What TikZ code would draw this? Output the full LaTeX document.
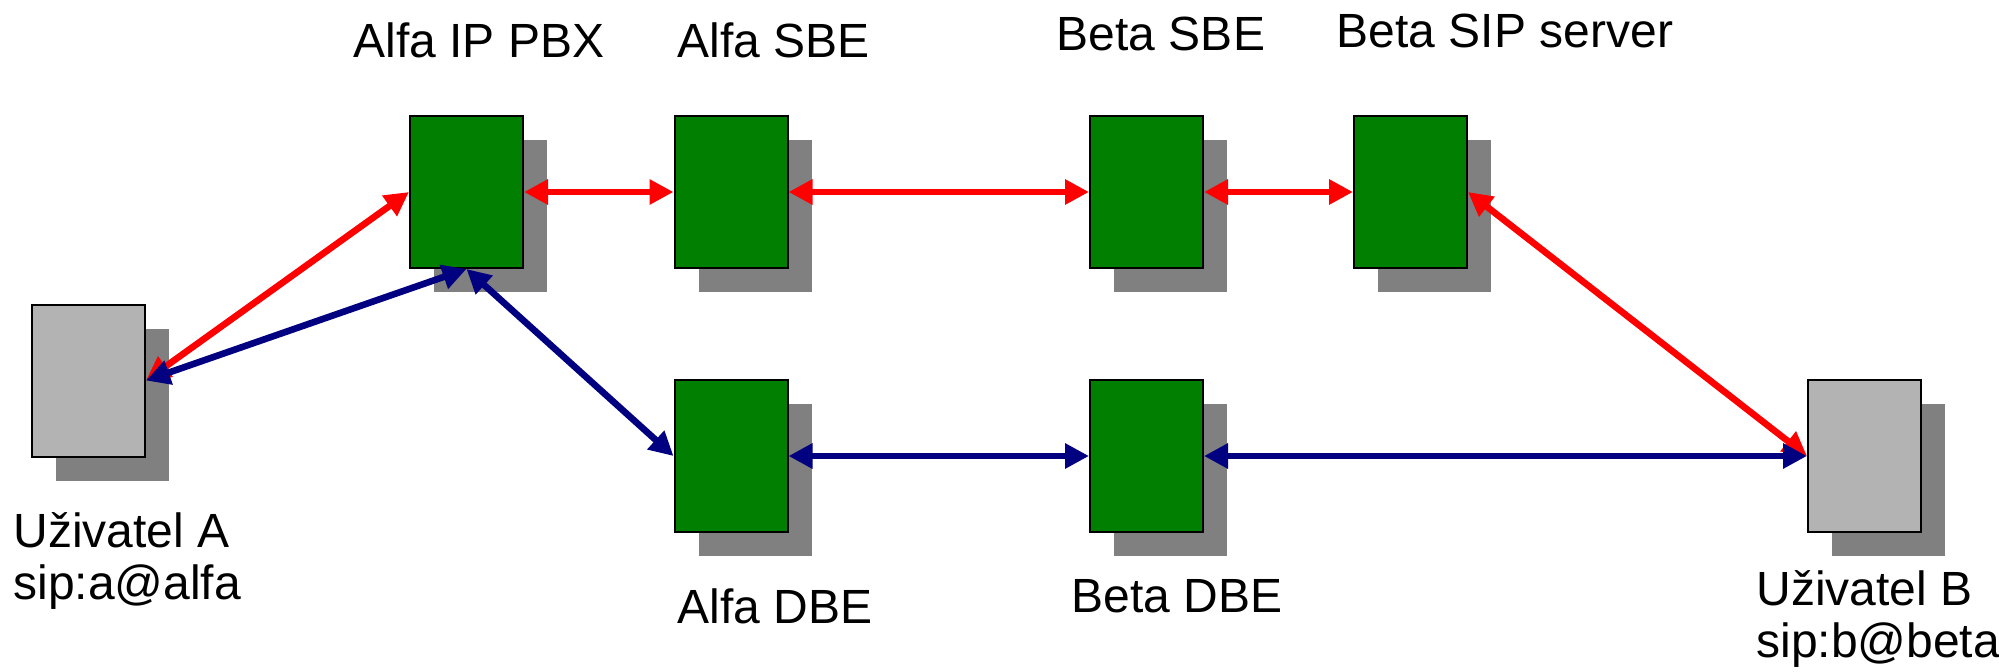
\documentclass[tikz,border=0pt]{standalone}
\usepackage{fontspec}
\setmainfont{Liberation Sans}
\usetikzlibrary{arrows.meta,shadows}
\definecolor{verde}{HTML}{007F00}
\definecolor{gris}{HTML}{B3B3B3}
\definecolor{sombra}{HTML}{808080}
\definecolor{azul}{HTML}{000080}
\begin{document}
\begin{tikzpicture}[x=0.5pt,y=-0.5pt,
  caja/.style={rectangle,draw=black,line width=1pt,inner sep=0pt,
    minimum width=56.5pt,minimum height=76pt,
    general shadow={fill=sombra,shadow xshift=12pt,shadow yshift=-12pt}},
  servidor/.style={caja,fill=verde},
  usuario/.style={caja,fill=gris},
  punta/.style={{Triangle[length=12pt,width=12pt]}-{Triangle[length=12pt,width=12pt]}},
  senal/.style={punta,color=red,line width=3.3pt},
  medio/.style={punta,color=azul,line width=3.3pt},
  etiqueta/.style={inner sep=0pt,font=\fontsize{24}{26}\selectfont}]
  \useasboundingbox (0,0) rectangle (1999,671);

  % Usuarios
  \node[usuario] (ua) at (88.5,380.5) {};
  \node[usuario] (ub) at (1864.5,456) {};

  % Servidores de arriba
  \node[servidor] (pbx) at (466.5,192) {};
  \node[servidor] (asbe) at (731,192) {};
  \node[servidor] (bsbe) at (1146.5,192) {};
  \node[servidor] (bsip) at (1410.5,192) {};

  % Servidores de abajo
  \node[servidor] (adbe) at (731,456) {};
  \node[servidor] (bdbe) at (1146.5,456) {};

  % Flechas rojas
  \foreach \from/\to in {pbx.west/ua.east, pbx.east/asbe.west, asbe.east/bsbe.west,
                         bsbe.east/bsip.west, bsip.east/ub.west}
    \draw[senal] (\from) -- (\to);

  % Flechas azules
  \foreach \from/\to in {pbx.south/ua.east, pbx.south/adbe.west, adbe.east/bdbe.west,
                         bdbe.east/ub.west}
    \draw[medio] (\from) -- (\to);

  % Textos
  \node[etiqueta,anchor=base] (lpbx) at (479,57) {Alfa IP PBX};
  \node[etiqueta,anchor=base] (lasbe) at (774,57) {Alfa SBE};
  \node[etiqueta,anchor=base] (lbsbe) at (1161,50) {Beta SBE};
  \node[etiqueta,anchor=base] (lbsip) at (1505,47) {Beta SIP server};
  \node[etiqueta,anchor=base] (ladbe) at (775,623) {Alfa DBE};
  \node[etiqueta,anchor=base] (lbdbe) at (1177,612) {Beta DBE};
  \node[etiqueta,anchor=north west,align=left] (lua) at (13,512) {Uživatel A\\sip:a@alfa};
  \node[etiqueta,anchor=north west,align=left] (lub) at (1756,570) {Uživatel B\\sip:b@beta};
\end{tikzpicture}
\end{document}
